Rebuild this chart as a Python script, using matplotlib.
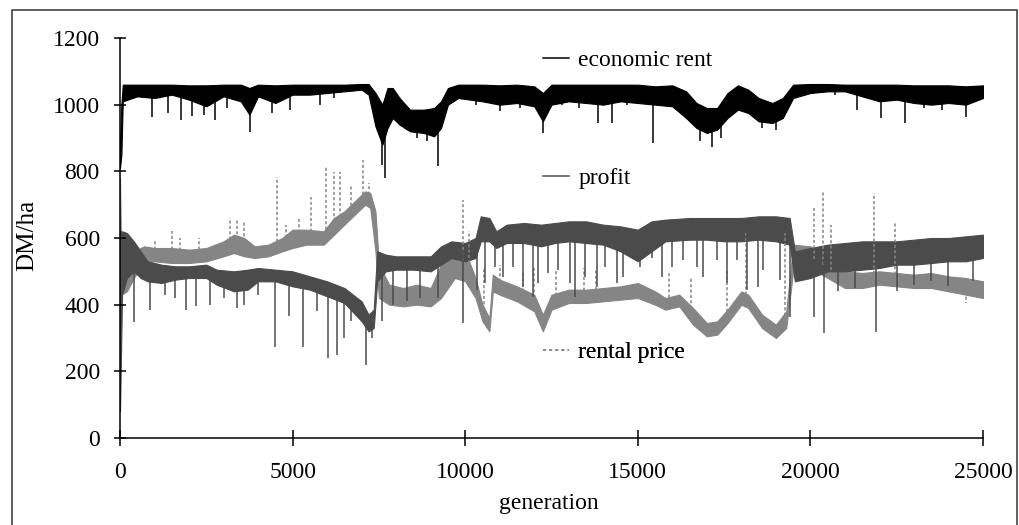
import matplotlib
matplotlib.use("Agg")
import matplotlib.pyplot as plt
from matplotlib.lines import Line2D
from matplotlib.patches import Rectangle
import numpy as np

plt.rcParams['font.family'] = ['Liberation Serif', 'DejaVu Serif']

# economic rent: band (lower / upper edge)
econ_gen = [0, 40, 80, 500, 1000, 1500, 2000, 2500, 3000, 3500, 3750, 4000, 4500,
            5000, 5500, 6000, 6500, 7000, 7200, 7400, 7600, 7750, 7900, 8100, 8400,
            8800, 9100, 9300, 9500, 9800, 10500, 11000, 11500, 12000, 12250, 12500,
            13000, 13500, 14000, 14500, 15000, 15500, 16000, 16400, 16700, 17000,
            17300, 17600, 17900, 18200, 18500, 18900, 19200, 19500, 20000, 20500,
            21000, 21500, 22000, 22500, 23000, 23500, 24000, 24500, 25000]
econ_lo = [810, 850, 1010, 1025, 1020, 1030, 1015, 995, 1025, 1010, 970, 1025, 1005,
           1030, 1030, 1035, 1040, 1045, 1030, 935, 880, 930, 960, 940, 920,
           915, 905, 930, 1000, 1020, 1010, 1000, 1005, 995, 950, 1000,
           1010, 1005, 1000, 1010, 1005, 1000, 995, 960, 930, 915,
           925, 960, 985, 975, 950, 945, 960, 1020, 1035, 1040,
           1040, 1025, 1010, 1015, 1005, 1000, 1005, 1000, 1020]
econ_hi = [890, 1000, 1060, 1060, 1060, 1060, 1058, 1058, 1060, 1060, 1050, 1060, 1058,
           1060, 1060, 1060, 1060, 1062, 1062, 1035, 1000, 1050, 1050, 1020, 985,
           985, 990, 1010, 1050, 1060, 1060, 1058, 1060, 1055, 1035, 1060,
           1060, 1060, 1060, 1060, 1060, 1055, 1058, 1040, 1005, 990,
           990, 1035, 1058, 1045, 1020, 1005, 1020, 1060, 1062, 1062,
           1060, 1060, 1060, 1060, 1058, 1058, 1058, 1055, 1058]
econ_spike_gen = [930, 1390, 1760, 2090, 2420, 2750, 3100, 3770, 4400, 4920, 5790,
                  6200, 7600, 7680, 8600, 8900, 9200, 10300, 11000, 11600, 12260,
                  12800, 13300, 13850, 14250, 14700, 15450, 16100, 16800, 17150,
                  17400, 18300, 18600, 19000, 20700, 21350, 22050, 22740, 23300,
                  23800, 24500]
econ_spike_val = [963, 975, 954, 965, 970, 954, 990, 918, 975, 985, 1000,
                  1020, 820, 780, 900, 890, 815, 1000, 980, 990, 915,
                  1000, 990, 945, 945, 1000, 885, 985, 890, 873,
                  900, 990, 930, 925, 1030, 984, 960, 945, 990,
                  985, 963]

# profit
profit_gen = [0, 60, 200, 400, 600, 800, 1200, 1600, 2000, 2500, 2800, 3300, 3700,
              4000, 4500, 5000, 5500, 6000, 6500, 7000, 7200, 7350, 7450, 7700, 8000,
              8500, 9000, 9300, 9600, 10000, 10300, 10450, 10700, 10900, 11200, 11700,
              12200, 12600, 13000, 13500, 14000, 14500, 15000, 15400, 15800, 16500,
              17000, 17500, 18000, 18500, 19000, 19400, 19550, 20000, 20500, 21000,
              21500, 22000, 22500, 23000, 23500, 24000, 24500, 25000]
profit_lo = [80, 430, 480, 500, 480, 470, 465, 475, 480, 480, 460, 440, 445,
             470, 470, 455, 445, 425, 405, 350, 320, 330, 470, 500, 505,
             505, 500, 520, 540, 530, 540, 590, 590, 570, 585, 585,
             575, 585, 590, 585, 580, 560, 530, 560, 590, 595,
             595, 590, 590, 595, 590, 580, 470, 480, 500, 500,
             505, 510, 520, 520, 525, 530, 530, 540]
profit_hi = [620, 620, 615, 590, 560, 530, 520, 515, 515, 520, 505, 500, 505,
             510, 505, 500, 485, 470, 450, 410, 370, 385, 560, 550, 545,
             545, 545, 575, 590, 585, 600, 665, 660, 620, 640, 645,
             640, 645, 650, 650, 640, 635, 625, 650, 655, 660,
             660, 660, 660, 665, 665, 660, 560, 570, 580, 585,
             590, 590, 590, 595, 600, 600, 605, 610]
profit_spike_gen = [416, 870, 1300, 1600, 1900, 2200, 2600, 3000, 3400, 3600, 4000,
                    4500, 4900, 5300, 5700, 6030, 6280, 6500, 6700, 7120, 7300, 7600,
                    7900, 8300, 8700, 9200, 9950, 10340, 10570, 10860, 11100, 11380,
                    11680, 11970, 12110, 12400, 12690, 13040, 13180, 13470, 13820,
                    14050, 14400, 14570, 15060, 15410, 15700, 15990, 16310, 16710,
                    16890, 17290, 17580, 17870, 18160, 18490, 18630, 19120, 19410,
                    20100, 20380, 20800, 21300, 21900, 22500, 23000, 23500, 24000,
                    24700]
profit_spike_val = [348, 384, 430, 420, 384, 395, 400, 420, 390, 400, 430,
                    273, 366, 273, 380, 240, 250, 300, 350, 219, 300, 350,
                    400, 410, 420, 420, 345, 444, 465, 513, 483, 513,
                    453, 423, 465, 495, 504, 465, 423, 483, 453,
                    513, 465, 483, 513, 540, 483, 513, 534, 513,
                    483, 534, 465, 534, 444, 453, 504, 474, 363,
                    363, 315, 440, 450, 318, 440, 460, 470, 455,
                    470]

# rental price
rent_gen = [0, 40, 200, 400, 700, 1000, 1500, 2000, 2500, 3000, 3300, 3600, 3900,
            4300, 4700, 5000, 5400, 5900, 6200, 6500, 6800, 7100, 7250, 7400, 7500,
            7800, 8200, 8600, 9000, 9300, 9700, 10000, 10300, 10500, 10700, 10800,
            11000, 11500, 12000, 12250, 12500, 13000, 13500, 14000, 14500, 15000,
            15500, 15800, 16200, 16600, 17000, 17300, 17600, 18000, 18200, 18600,
            19000, 19300, 19500, 20000, 20500, 21000, 21500, 22000, 22500, 23000,
            23500, 24000, 24500, 25000]
rent_lo = [330, 430, 440, 480, 530, 530, 525, 525, 530, 545, 555, 545, 540,
           545, 560, 570, 580, 580, 610, 640, 670, 700, 690, 560, 420,
           400, 395, 400, 395, 420, 480, 470, 420, 350, 320, 440,
           430, 410, 380, 320, 385, 405, 405, 410, 415, 420,
           400, 385, 395, 340, 305, 310, 345, 400, 390, 330,
           300, 330, 500, 510, 480, 450, 450, 460, 455, 450,
           450, 440, 430, 420]
rent_hi = [780, 500, 490, 560, 575, 570, 570, 565, 570, 590, 610, 600, 575,
           580, 600, 625, 625, 620, 660, 680, 710, 740, 735, 680, 520,
           460, 450, 460, 450, 520, 560, 560, 480, 400, 360, 490,
           475, 455, 430, 370, 430, 445, 445, 450, 455, 465,
           440, 420, 430, 390, 345, 350, 385, 440, 430, 370,
           340, 380, 580, 575, 540, 500, 495, 500, 495, 490,
           495, 485, 480, 470]
rent_spike_gen = [1000, 1500, 1740, 2300, 3200, 3400, 3600, 4540, 4800, 5190, 5520,
                  5970, 6190, 6370, 6700, 7050, 7210, 9950, 10100, 10540, 11000,
                  11680, 12000, 12620, 13440, 13790, 15910, 16550, 17580, 18140,
                  19260, 20100, 20360, 20600, 21840, 22450, 24500]
rent_spike_val = [594, 620, 600, 600, 660, 655, 650, 783, 640, 660, 724,
                  814, 798, 798, 760, 834, 764, 714, 620, 510, 520,
                  495, 510, 505, 510, 505, 500, 480, 500, 615,
                  615, 690, 738, 640, 735, 645, 405]

c_econ = '#000000'
c_profit = '#4b4b4b'
c_rent = '#858585'

fig = plt.figure(figsize=(10.2, 5.25), dpi=100)
ax = fig.add_axes([120 / 1020, 87 / 525, 863 / 1020, 400 / 525])

# rental price (dotted in the original) first, profit over it, economic rent on top
ax.fill_between(rent_gen, rent_lo, rent_hi, color=c_rent, lw=0.8)
base = np.interp(rent_spike_gen, rent_gen, np.add(rent_lo, rent_hi) / 2)
ax.vlines(rent_spike_gen, base, rent_spike_val, color=c_rent, lw=1.1,
          linestyles=(0, (2, 1.5)))

ax.fill_between(profit_gen, profit_lo, profit_hi, color=c_profit, lw=0.8)
base = np.interp(profit_spike_gen, profit_gen, np.add(profit_lo, profit_hi) / 2)
ax.vlines(profit_spike_gen, profit_spike_val, base, color=c_profit, lw=1.1)

ax.fill_between(econ_gen, econ_lo, econ_hi, color=c_econ, lw=0.8)
base = np.interp(econ_spike_gen, econ_gen, np.add(econ_lo, econ_hi) / 2)
ax.vlines(econ_spike_gen, econ_spike_val, base, color=c_econ, lw=1.1)

ax.set_xlim(0, 25000)
ax.set_ylim(0, 1200)
ax.set_xticks(range(0, 25001, 5000))
ax.set_yticks(range(0, 1201, 200))
for s in ['top', 'right']:
    ax.spines[s].set_visible(False)
for s in ['left', 'bottom']:
    ax.spines[s].set_linewidth(1.1)
ax.tick_params(axis='both', direction='inout', width=1.1, labelsize=17)
ax.tick_params(axis='x', length=11, pad=12)
ax.tick_params(axis='y', length=9, pad=10)

ax.set_xlabel('generation', fontsize=17)
ax.set_ylabel('DM/ha', fontsize=18)
ax.xaxis.set_label_coords(0.497, -0.137)
ax.yaxis.set_label_coords(-0.095, 0.5075)

# three separate legend entries placed beside each series
entries = [
    (Line2D([], [], color=c_econ, lw=1.1), 'economic rent', 0.945),
    (Line2D([], [], color=c_profit, lw=1.1), 'profit', 0.65),
    (Line2D([], [], color=c_rent, lw=1.1, ls=(0, (2, 2))), 'rental price', 0.215),
]
for handle, label, ypos in entries:
    leg = ax.legend([handle], [label], loc='center left', bbox_to_anchor=(0.49, ypos),
                    frameon=False, fontsize=17, handlelength=1.1, handletextpad=0.4,
                    borderaxespad=0, borderpad=0)
    ax.add_artist(leg)

fig.add_artist(Rectangle((12 / 1020, -0.01), 1005 / 1020, 0.991, transform=fig.transFigure,
                         fill=False, edgecolor='#333333', lw=1.1))

fig.savefig('out.png', dpi=100)
